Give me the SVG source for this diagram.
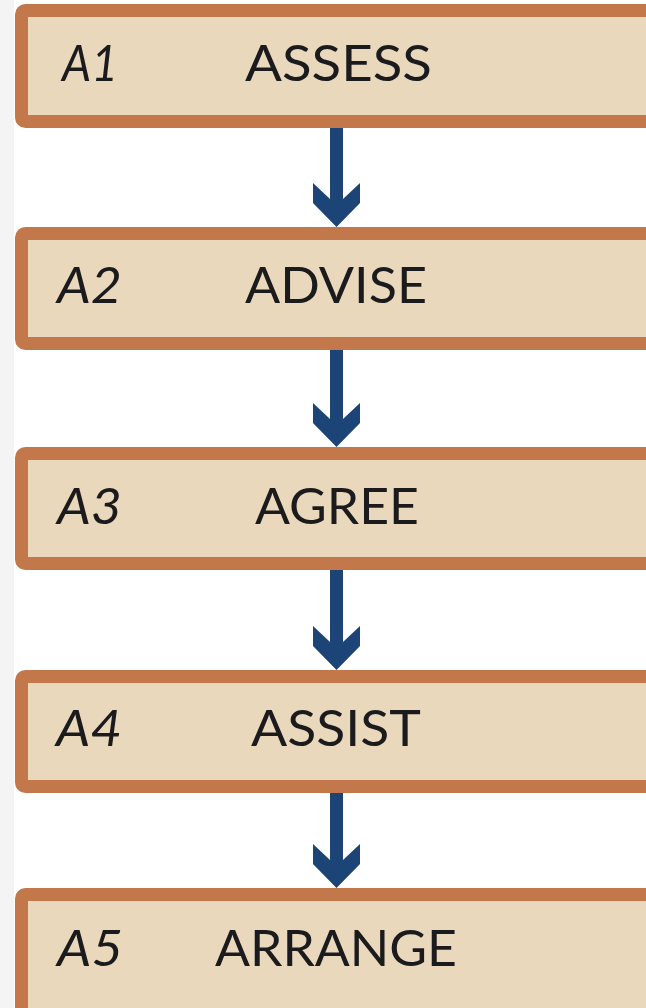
<svg xmlns="http://www.w3.org/2000/svg" width="646" height="1008" viewBox="0 0 646 1008">
<style>
.box{fill:#EAD8BC;stroke:#C2784A;stroke-width:13}
.lbl{font-family:Lato,"Liberation Sans",sans-serif;font-size:51px;fill:#1B1B1D}
.num{font-style:italic}
.main{text-anchor:start}
.arr{fill:#1C4476}
</style>
<rect x="0" y="0" width="646" height="1008" fill="#FFFFFF"/>
<rect x="0" y="0" width="14" height="1008" fill="#F4F4F5"/>
<g id="connectors">
<polygon class="arr" points="330,128 330,199 313,183 313,203 336.5,227 360,203 360,183 343,199 343,128"/>
<polygon class="arr" points="330,350 330,419 313,403 313,423 336.5,447 360,423 360,403 343,419 343,350"/>
<polygon class="arr" points="330,570 330,642 313,626 313,646 336.5,670 360,646 360,626 343,642 343,570"/>
<polygon class="arr" points="330,793 330,860 313,844 313,864 336.5,888 360,864 360,844 343,860 343,793"/>
</g>
<g id="a1">
<rect class="box" x="21.5" y="10.5" width="650" height="111" rx="4"/>
<text class="lbl num" x="62" y="81" textLength="56" lengthAdjust="spacingAndGlyphs">A1</text>
<text class="lbl main" x="245" y="81" textLength="187" lengthAdjust="spacingAndGlyphs">ASSESS</text>
</g>
<g id="a2">
<rect class="box" x="21.5" y="233.5" width="650" height="110" rx="4"/>
<text class="lbl num" x="57" y="303" textLength="65" lengthAdjust="spacingAndGlyphs">A2</text>
<text class="lbl main" x="245" y="303" textLength="182" lengthAdjust="spacingAndGlyphs">ADVISE</text>
</g>
<g id="a3">
<rect class="box" x="21.5" y="453.5" width="650" height="110" rx="4"/>
<text class="lbl num" x="57" y="524" textLength="65" lengthAdjust="spacingAndGlyphs">A3</text>
<text class="lbl main" x="255" y="524" textLength="164" lengthAdjust="spacingAndGlyphs">AGREE</text>
</g>
<g id="a4">
<rect class="box" x="21.5" y="676.5" width="650" height="110" rx="4"/>
<text class="lbl num" x="56" y="746" textLength="66" lengthAdjust="spacingAndGlyphs">A4</text>
<text class="lbl main" x="251" y="746" textLength="170" lengthAdjust="spacingAndGlyphs">ASSIST</text>
</g>
<g id="a5">
<rect class="box" x="21.5" y="894.5" width="650" height="130" rx="4"/>
<text class="lbl num" x="57" y="966" textLength="66" lengthAdjust="spacingAndGlyphs">A5</text>
<text class="lbl main" x="215" y="966" textLength="242" lengthAdjust="spacingAndGlyphs">ARRANGE</text>
</g>
</svg>
